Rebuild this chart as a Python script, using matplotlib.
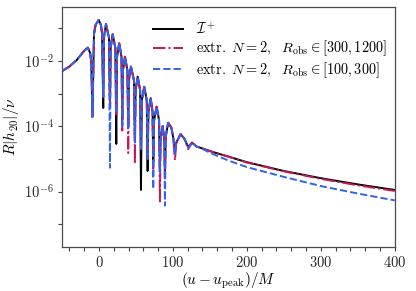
import matplotlib
matplotlib.use("Agg")
import matplotlib.pyplot as plt
import numpy as np

plt.rcParams['font.family'] = 'serif'
plt.rcParams['font.serif'] = ['cmr10']
plt.rcParams['mathtext.fontset'] = 'cm'
plt.rcParams['axes.formatter.use_mathtext'] = True

# retarded time (u - u_peak)/M
u = [-50, -40, -30, -20, -15, -12, -10.3,
     -8.8,
     -6.7, -4.6, -0.4, 2.7, 4.25,
     5.8,
     6.7, 9.5, 13.55, 14.9,
     15.8, 18.5, 22.2, 23.4,
     24.4, 27.4, 30.5, 31.5,
     32.4, 35.1, 38.5, 39.6,
     40.5, 43.2, 47.3, 48.6,
     49.5, 52.3, 55.7, 56.8,
     57.9, 61.2, 64.65, 65.8,
     66.8, 69.9, 72.5, 73.4,
     74.55, 78.0, 81.3, 82.4,
     83.3, 86.1, 88.4, 89.2,
     90.3, 93.6, 98.0, 100.4, 102.7,
     104.6, 110.4, 115.5, 120.7,
     125.8, 132.0, 138.8,
     150, 175, 200, 250, 300, 350, 400]

# log10 of R|hdot_20|/nu, scri+
log_scri = [-2.31, -2.17, -1.97, -1.69, -1.59, -1.75, -2.05,
            -3.71,
            -1.17, -0.90, -0.745, -0.90, -1.17,
            -3.44,
            -1.29, -0.87, -1.29, -3.30,
            -1.60, -1.18, -1.60, -4.54,
            -1.88, -1.46, -1.88, -3.80,
            -2.29, -1.87, -2.29, -4.00,
            -2.59, -2.17, -2.59, -4.40,
            -2.90, -2.48, -2.90, -5.95,
            -3.21, -2.79, -3.21, -5.37,
            -3.56, -3.14, -3.56, -5.10,
            -3.82, -3.40, -3.82, -5.30,
            -4.41, -3.99, -4.41, -5.40,
            -4.31, -3.89, -4.05, -4.35, -4.75,
            -4.50, -4.24, -4.38, -4.64,
            -4.50, -4.62, -4.67,
            -4.76, -4.93, -5.10, -5.37, -5.59, -5.78, -5.95]

# extrapolated, R_obs in [300, 1200]
log_far = [-2.31, -2.17, -1.97, -1.69, -1.59, -1.75, -2.05,
           -3.71,
           -1.17, -0.90, -0.745, -0.90, -1.17,
           -3.10,
           -1.29, -0.87, -1.29, -3.40,
           -1.60, -1.18, -1.60, -3.70,
           -1.88, -1.46, -1.88, -4.13,
           -2.29, -1.87, -2.29, -4.82,
           -2.59, -2.17, -2.59, -5.15,
           -2.90, -2.48, -2.90, -4.70,
           -3.21, -2.79, -3.21, -5.00,
           -3.56, -3.14, -3.56, -5.30,
           -3.82, -3.40, -3.82, -6.30,
           -4.41, -3.99, -4.41, -5.60,
           -4.31, -3.89, -4.05, -4.35, -5.05,
           -4.50, -4.24, -4.38, -4.70,
           -4.50, -4.62, -4.67,
           -4.76, -4.93, -5.11, -5.38, -5.61, -5.81, -5.98]

# extrapolated, R_obs in [100, 300]
log_near = [-2.31, -2.17, -1.97, -1.69, -1.59, -1.75, -2.05,
            -3.71,
            -1.17, -0.90, -0.745, -0.90, -1.17,
            -3.10,
            -1.29, -0.87, -1.29, -5.27,
            -1.60, -1.18, -1.60, -3.60,
            -1.88, -1.46, -1.88, -4.05,
            -2.29, -1.87, -2.29, -4.10,
            -2.59, -2.17, -2.59, -4.50,
            -2.90, -2.48, -2.90, -4.70,
            -3.21, -2.79, -3.21, -5.00,
            -3.56, -3.14, -3.56, -5.92,
            -3.82, -3.40, -3.82, -5.40,
            -4.41, -3.99, -4.41, -6.43,
            -4.31, -3.89, -4.05, -4.35, -4.85,
            -4.50, -4.24, -4.38, -4.66,
            -4.50, -4.62, -4.68,
            -4.81, -5.05, -5.25, -5.55, -5.83, -6.06, -6.27]

labels = [r'$\mathcal{I}^+$',
          r'$\mathrm{extr.}\ N=2,\ \ R_{\rm obs}\in[300,1200]$',
          r'$\mathrm{extr.}\ N=2,\ \ R_{\rm obs}\in[100,300]$']

fig = plt.figure(figsize=(4.16, 2.91), dpi=100)
ax = fig.add_axes([0.149, 0.151, 0.800, 0.825])

ax.plot(u, np.power(10.0, log_scri), color='black', lw=1.4, label=labels[0])
ax.plot(u, np.power(10.0, log_far), color='#c8165a', lw=1.4, ls='-.', label=labels[1])
ax.plot(u, np.power(10.0, log_near), color='#2f63f0', lw=1.4, ls='--', label=labels[2])

ax.set_yscale('log')
ax.set_xlim(-50, 400)
ax.set_ylim(2.0e-8, 0.45)
ax.set_xticks([0, 100, 200, 300, 400])
ax.set_xticks(np.arange(-40, 400, 20), minor=True)
ax.set_yticks([1e-6, 1e-4, 1e-2])
ax.set_yticks([1e-7, 1e-5, 1e-3, 1e-1], minor=True)
ax.yaxis.set_minor_formatter(matplotlib.ticker.NullFormatter())
ax.tick_params(which='both', direction='out', length=3, width=0.8, colors='0.25',
               labelcolor='0.15', labelsize=10.5, pad=3)
for s in ax.spines.values():
    s.set_color('0.3')
    s.set_linewidth(0.9)

ax.set_xlabel(r'$(u-u_{\rm peak})/M$', fontsize=11, labelpad=0)
ax.set_ylabel(r'$R|\dot{h}_{20}|/\nu$', fontsize=11, labelpad=1)

ax.legend(loc='upper right', bbox_to_anchor=(1.0, 0.975), fontsize=10.3, frameon=False,
          handlelength=2.1, handletextpad=0.9, labelspacing=0.15, borderaxespad=0.15)

fig.savefig('out.png', dpi=100)
